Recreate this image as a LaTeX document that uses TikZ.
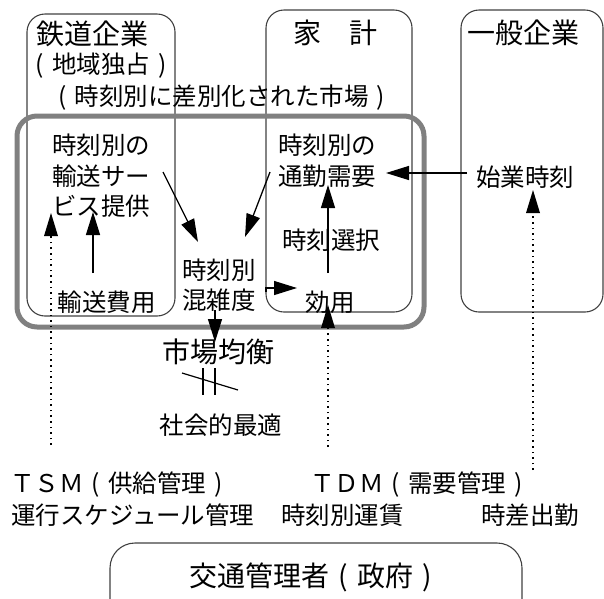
\documentclass[tikz,border=0pt]{standalone}
\usepackage{fontspec}
\setmainfont{Noto Sans CJK JP}
\usetikzlibrary{arrows.meta,calc}
\newcommand{\jlp}{\makebox[1em][c]{(}}
\newcommand{\jrp}{\makebox[1em][c]{)}}
\begin{document}
\begin{tikzpicture}[x=1pt,y=-1pt,
  box/.style={draw=black!75, line width=1.1pt, rounded corners=18pt},
  lbl/.style={inner sep=0pt, font=\fontsize{24.5}{30.5}\selectfont},
  big/.style={inner sep=0pt, font=\fontsize{28}{34}\selectfont},
  arr/.style={line width=1.3pt, -{Triangle[length=23pt,width=14pt]}},
  dotl/.style={line width=1.6pt, dash pattern=on 1.6pt off 4pt},
]
\useasboundingbox (0,0) rectangle (604,598);
% boxes
\draw[box] (27,14) rectangle (175,316);
\draw[box] (266,10) rectangle (412,312);
\draw[box] (461,10) rectangle (603,312);
\draw[draw=black!50, line width=5pt, rounded corners=20pt] (17,116) rectangle (424,327);
\draw[box, rounded corners=25pt] (110,640) -- (110,543) -- (522,543) -- (522,640);
% texts
\node[big] (tetsu) at (92.5,34) {鉄道企業};
\node[big] (kakei) at (335,33) {家　計};
\node[big] (ippan) at (523.5,33) {一般企業};
\node[lbl] (chiiki) at (101,66) {\jlp 地域独占\jrp};
\node[lbl] (shijo) at (221.5,98) {\jlp 時刻別に差別化された市場\jrp};
\node[lbl, anchor=west, align=left] (yuso) at (52,176) {時刻別の\\輸送サー\\ビス提供};
\node[lbl, anchor=west, align=left] (tsukin) at (278,160.5) {時刻別の\\通勤需要};
\node[lbl] (shigyo) at (525,177) {始業時刻};
\node[lbl] (sentaku) at (331,240) {時刻選択};
\node[lbl, anchor=west, align=left] (konzatsu) at (182,285) {時刻別\\混雑度};
\node[lbl] (hiyo) at (106.5,302) {輸送費用};
\node[lbl] (koyo) at (330,302) {効用};
\node[big] (kinko) at (218.5,352) {市場均衡};
\node[lbl] (saiteki) at (221,425) {社会的最適};
\node[lbl, anchor=west] (tsm) at (10,485) {ＴＳＭ\jlp 供給管理\jrp};
\node[lbl, anchor=west] (unko) at (11,515) {運行スケジュール管理};
\node[lbl, anchor=west] (tdm) at (310,485) {ＴＤＭ\jlp 需要管理\jrp};
\node[lbl, anchor=west] (unchin) at (281,515) {時刻別運賃};
\node[lbl, anchor=west] (jisa) at (481,515) {時差出勤};
\node[big] (gov) at (315,577) {交通管理者\jlp 政府\jrp};
% connector end points
\coordinate (a1) at (163,172); \coordinate (a1e) at (198,242);
\coordinate (a2) at (270,172); \coordinate (a2e) at (245,237);
\coordinate (a3) at (467,173); \coordinate (a3e) at (386,173);
\coordinate (a4) at (93,273);  \coordinate (a4e) at (93,212);
\coordinate (d1) at (51,445);  \coordinate (d1e) at (51,213);
\coordinate (a6) at (328,273); \coordinate (a6e) at (328,185);
\coordinate (a7s) at (266,292); \coordinate (a7) at (266,288); \coordinate (a7e) at (297,288);
\coordinate (d2) at (328,447); \coordinate (d2e) at (328,305);
\coordinate (d3) at (533,470); \coordinate (d3e) at (533,190);
\coordinate (a10) at (215,310); \coordinate (a10e) at (215,342);
% arrows
\draw[arr] (a1) -- (a1e);
\draw[arr] (a2) -- (a2e);
\draw[arr] (a3) -- (a3e);
\draw[arr] (a4) -- (a4e);
\draw[arr] (a6) -- (a6e);
\draw[arr] (a7s) -- (a7) -- (a7e);
\draw[arr] (a10) -- (a10e);
\draw[dotl] (d1) -- ($(d1e)+(0,23)$);
\draw[dotl] (d2) -- ($(d2e)+(0,23)$);
\draw[dotl] (d3) -- ($(d3e)+(0,23)$);
\fill ($(d1e)+(-7,23)$) -- (d1e) -- ($(d1e)+(7,23)$) -- cycle;
\fill ($(d2e)+(-7,23)$) -- (d2e) -- ($(d2e)+(7,23)$) -- cycle;
\fill ($(d3e)+(-7,23)$) -- (d3e) -- ($(d3e)+(7,23)$) -- cycle;
% not-equal sign
\coordinate (n1) at (203,368); \coordinate (n1e) at (203,395);
\coordinate (n2) at (215,368); \coordinate (n2e) at (215,395);
\coordinate (n3) at (182,373); \coordinate (n3e) at (238,390);
\draw[line width=1.4pt] (n1) -- (n1e);
\draw[line width=1.4pt] (n2) -- (n2e);
\draw[line width=1.2pt] (n3) -- (n3e);
\end{tikzpicture}
\end{document}
